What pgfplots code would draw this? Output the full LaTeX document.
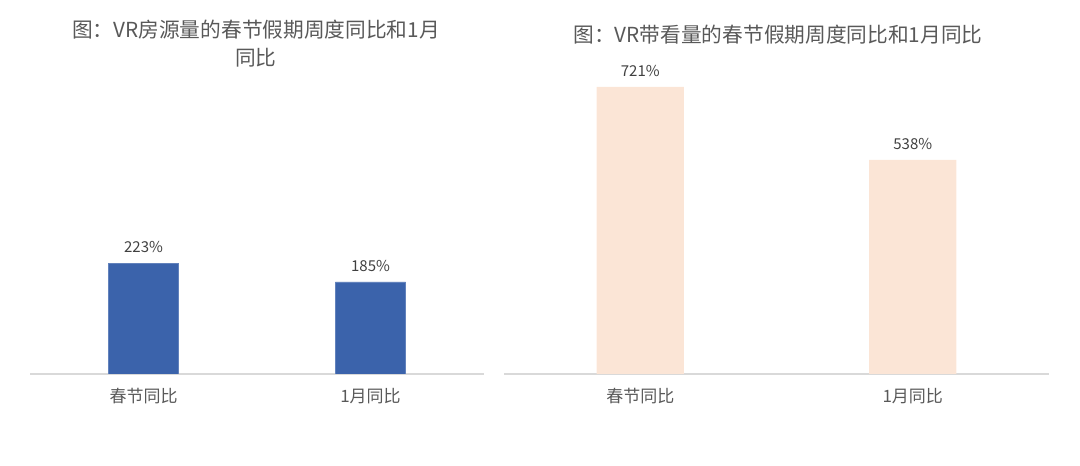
\documentclass[border=0pt]{standalone}
\usepackage{pgfplots}
\pgfplotsset{compat=1.18}
\usepackage{fontspec}
\setmainfont{Noto Sans CJK SC}

\definecolor{barblue}{HTML}{3B63AB}
\definecolor{barpeach}{HTML}{FBE5D6}
\definecolor{txtgray}{HTML}{595959}
\definecolor{lblgray}{HTML}{404040}
\definecolor{basegray}{HTML}{D9D9D9}

\pgfplotsset{
  panel/.style={
    scale only axis,
    anchor=south west,
    xmin=-0.5, xmax=1.5,
    ymin=0,
    axis x line*=bottom,
    axis y line=none,
    x axis line style={draw=basegray, line width=1.3pt, -},
    xtick={0,1},
    xticklabels={春节同比,1月同比},
    major tick length=0pt,
    xticklabel style={font=\fontsize{17}{20}\selectfont, text=txtgray, yshift=-11pt},
    ybar,
    bar width=0.31,
    point meta=explicit symbolic,
    nodes near coords,
    nodes near coords style={font=\fontsize{15}{18}\selectfont, text=lblgray, yshift=7pt},
  },
}

\begin{document}
\begin{tikzpicture}
  \path (0pt,0pt) rectangle (1080pt,466pt);

  % left panel
  \begin{axis}[panel, at={(30pt,92pt)}, width=454pt, height=294pt, ymax=591]
    \addplot[fill=barblue, draw=barblue!80!white] coordinates {(0,223) [223\%] (1,185) [185\%]};
  \end{axis}
  \node[font=\fontsize{20.7}{28}\selectfont, text=txtgray, align=center] at (256pt,422pt)
    {图：VR房源量的春节假期周度同比和1月\\同比};

  % right panel
  \begin{axis}[panel, at={(504pt,92pt)}, width=545pt, height=299pt, ymax=751, bar width=0.32]
    \addplot[fill=barpeach, draw=none] coordinates {(0,721) [721\%] (1,538) [538\%]};
  \end{axis}
  \node[font=\fontsize{20.7}{28}\selectfont, text=txtgray] at (778pt,431pt)
    {图：VR带看量的春节假期周度同比和1月同比};
\end{tikzpicture}
\end{document}
